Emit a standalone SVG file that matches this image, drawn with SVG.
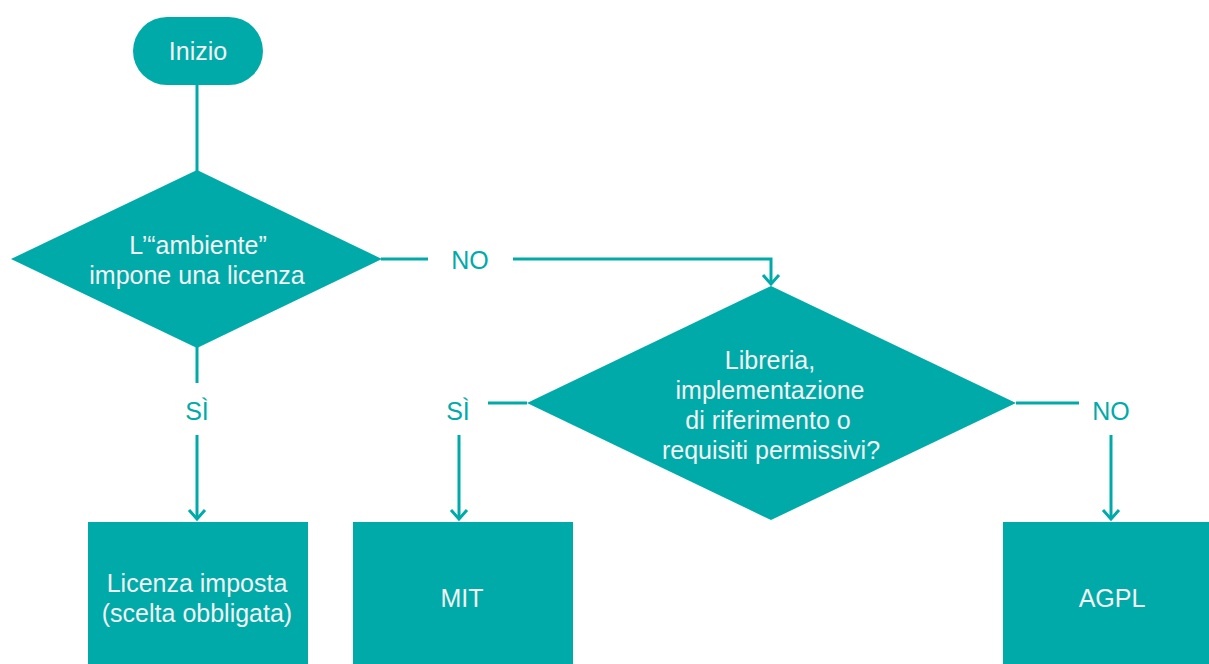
<svg xmlns="http://www.w3.org/2000/svg" width="1209" height="664" viewBox="0 0 1209 664">
<style>
.shape{fill:#00AAA9;}
.t{font-family:"Liberation Sans",Arial,sans-serif;font-size:25px;fill:#F2F2F2;text-anchor:middle;}
.lbl{font-family:"Liberation Sans",Arial,sans-serif;font-size:25px;fill:#00AAA9;text-anchor:middle;}
.c{fill:none;stroke:#00AAA9;stroke-width:3;}
</style>
<defs>
<marker id="arr" viewBox="0 0 20 20" refX="10" refY="10" markerWidth="20" markerHeight="20" markerUnits="userSpaceOnUse" orient="auto">
<path d="M1,2 L10,10 L1,18" fill="none" stroke="#00AAA9" stroke-width="3"/>
</marker>
</defs>
<rect width="1209" height="664" fill="#FFFFFF"/>
<g id="connectors">
<path class="c" d="M197,84 V172"/>
<path class="c" d="M381,259 H428"/>
<path class="c" d="M513,259 H771 V284" marker-end="url(#arr)"/>
<path class="c" d="M197,347 V383"/>
<path class="c" d="M197,435 V519" marker-end="url(#arr)"/>
<path class="c" d="M527,403 H488"/>
<path class="c" d="M459,435 V519" marker-end="url(#arr)"/>
<path class="c" d="M1016,403 H1079"/>
<path class="c" d="M1111,435 V519" marker-end="url(#arr)"/>
<text class="lbl" x="470" y="269">NO</text>
<text class="lbl" x="197" y="420">SÌ</text>
<text class="lbl" x="458" y="420">SÌ</text>
<text class="lbl" x="1111" y="420">NO</text>
</g>
<g id="start">
<rect class="shape" x="133" y="17" width="130" height="68" rx="34" ry="34"/>
<text class="t" x="198" y="60">Inizio</text>
</g>
<g id="decision1">
<polygon class="shape" points="197,170 382,259 197,348 11,259"/>
<text class="t" x="198" y="254">L’“ambiente”</text>
<text class="t" x="197" y="284">impone una licenza</text>
</g>
<g id="decision2">
<polygon class="shape" points="771,286 1016,403 771,520 527,403"/>
<text class="t" x="770" y="369">Libreria,</text>
<text class="t" x="770" y="399">implementazione</text>
<text class="t" x="768" y="429">di riferimento o</text>
<text class="t" x="771" y="459">requisiti permissivi?</text>
</g>
<g id="imposta">
<rect class="shape" x="88" y="522" width="220" height="150"/>
<text class="t" x="197" y="592">Licenza imposta</text>
<text class="t" x="197" y="622">(scelta obbligata)</text>
</g>
<g id="mit">
<rect class="shape" x="353" y="522" width="220" height="150"/>
<text class="t" x="462" y="607">MIT</text>
</g>
<g id="agpl">
<rect class="shape" x="1003" y="522" width="220" height="150"/>
<text class="t" x="1112" y="607">AGPL</text>
</g>
</svg>
